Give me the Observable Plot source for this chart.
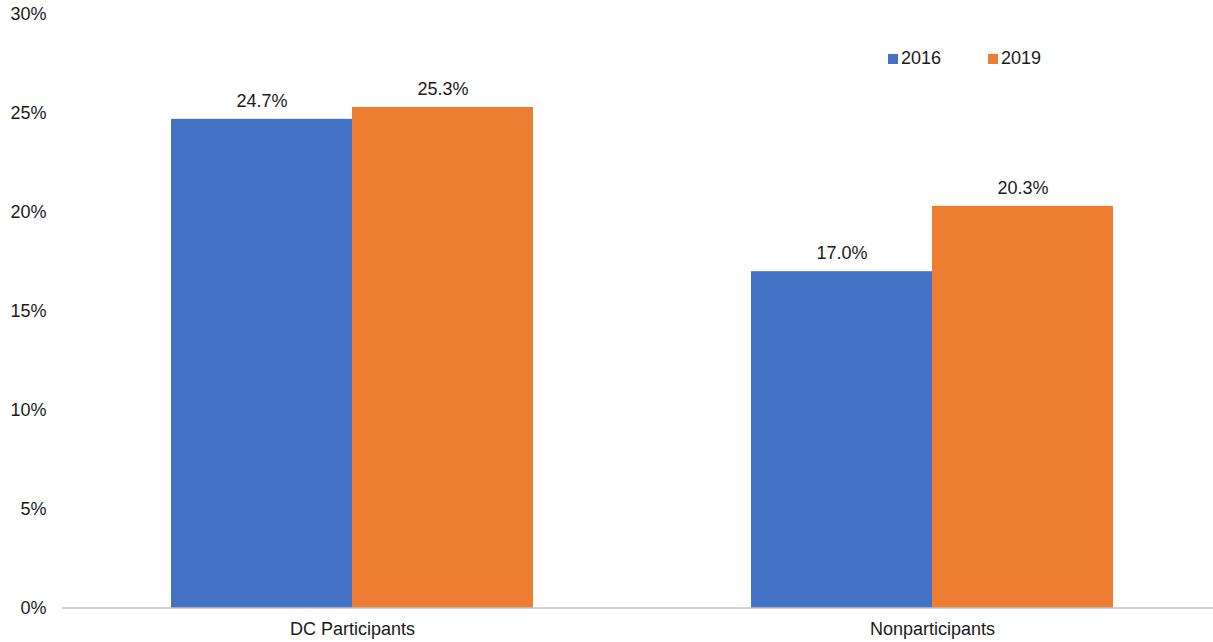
<!DOCTYPE html>
<html>
<head>
<meta charset="utf-8">
<script src="https://cdn.jsdelivr.net/npm/d3@7"></script>
<script src="https://cdn.jsdelivr.net/npm/@observablehq/plot@0.6"></script>
<style>
  html, body { margin: 0; padding: 0; background: #fff; overflow: hidden; }
  #wrap { position: relative; width: 1213px; height: 642px; font-family: "Liberation Sans", Arial, sans-serif; }
  .leg { position: absolute; top: 48px; display: flex; align-items: center; font-size: 18px; color: #1a1a1a; }
  .sw { width: 10px; height: 10px; margin-right: 3px; }
</style>
</head>
<body>
<div id="wrap"></div>
<script>
const categories = ["DC Participants", "Nonparticipants"];
const years = ["2016", "2019"];
const values2016 = [24.7, 17.0];
const values2019 = [25.3, 20.3];
const colors = ["#4472C4", "#ED7D31"];
const yTicks = [0, 5, 10, 15, 20, 25, 30];

const data = [];
categories.forEach((c, i) => {
  data.push({category: c, year: years[0], value: values2016[i]});
  data.push({category: c, year: years[1], value: values2019[i]});
});

const chart = Plot.plot({
  width: 1213,
  height: 642,
  marginLeft: 62,
  marginRight: -9,
  marginTop: 14,
  marginBottom: 34.5,
  style: {fontFamily: "Liberation Sans, Arial, sans-serif", fontSize: "18px", color: "#1a1a1a", background: "#fff", overflow: "visible"},
  fx: {domain: categories, padding: 0, label: null},
  x: {domain: years, paddingInner: 0, paddingOuter: 0.602, axis: null},
  y: {domain: [0, 30], label: null},
  color: {domain: years, range: colors},
  marks: [
    Plot.axisY({ticks: yTicks, tickSize: 0, tickPadding: 16, tickFormat: d => d + "%", fontSize: 18, label: null}),
    Plot.axisFx({anchor: "bottom", tickSize: 0, tickPadding: 14, fontSize: 18, label: null}),
    Plot.barY(data, {fx: "category", x: "year", y: "value", fill: "year"}),
    Plot.ruleY([0], {stroke: "#a6a6a6", strokeWidth: 1.2}),
    Plot.text(data, {fx: "category", x: "year", y: "value", text: d => d.value.toFixed(1) + "%", dy: -18, fontSize: 18, fill: "#1a1a1a", lineAnchor: "middle"})
  ]
});

const wrap = document.getElementById("wrap");
wrap.appendChild(chart);

const legendPos = [888, 988];
years.forEach((y, i) => {
  const item = document.createElement("div");
  item.className = "leg";
  item.style.left = legendPos[i] + "px";
  const sw = document.createElement("span");
  sw.className = "sw";
  sw.style.background = colors[i];
  const lab = document.createElement("span");
  lab.textContent = y;
  item.appendChild(sw);
  item.appendChild(lab);
  wrap.appendChild(item);
});
</script>
</body>
</html>
